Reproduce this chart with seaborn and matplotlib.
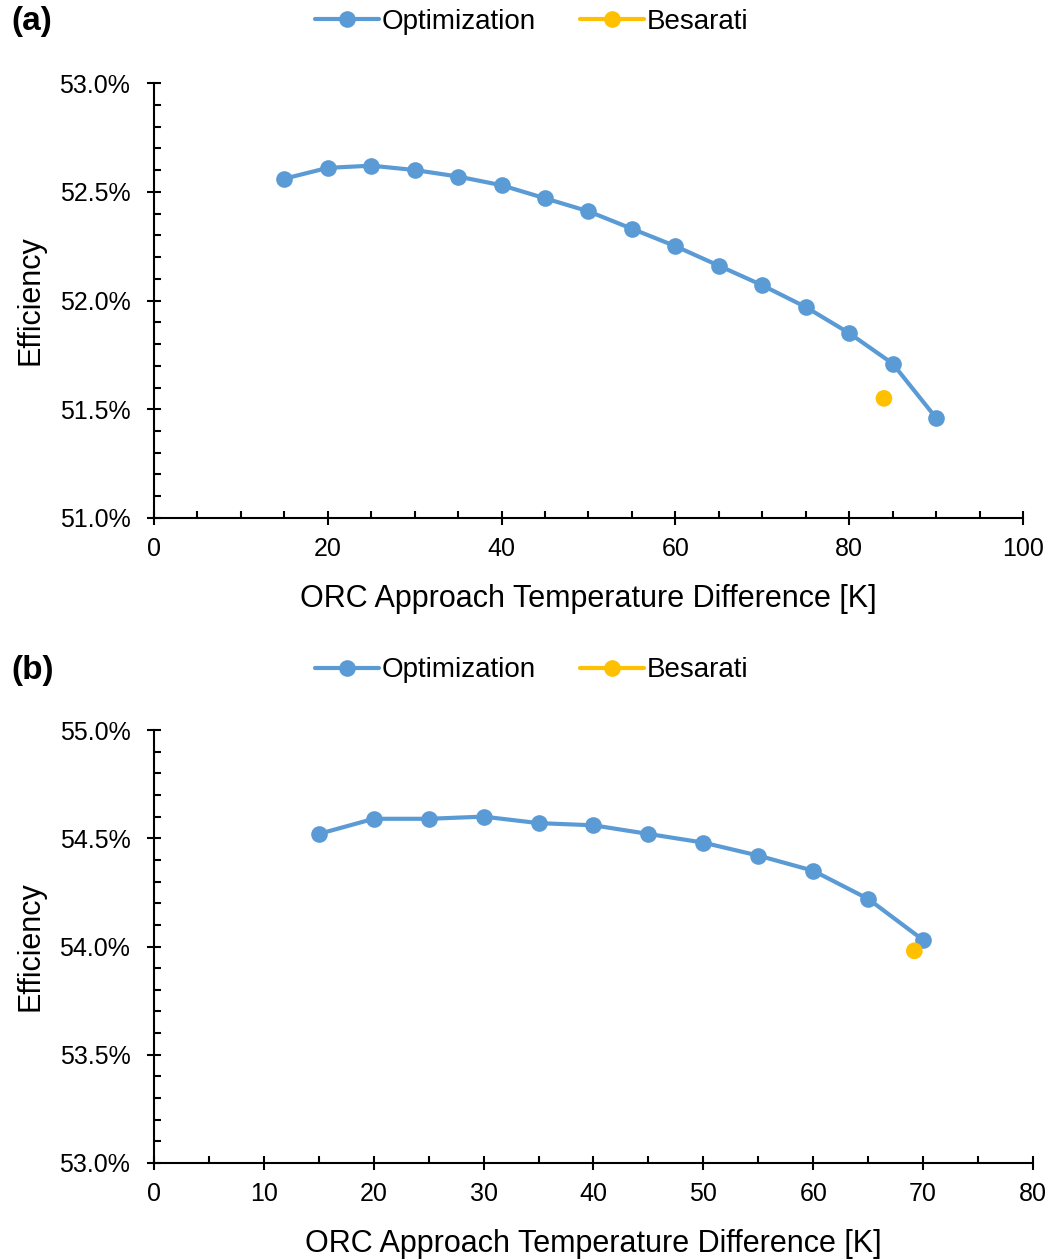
import numpy as np
import pandas as pd
import matplotlib
matplotlib.use("Agg")
import matplotlib.pyplot as plt
import seaborn as sns
from matplotlib.ticker import MultipleLocator, FuncFormatter
from matplotlib.lines import Line2D

# ---- data ----
dt_a = [15, 20, 25, 30, 35, 40, 45, 50, 55, 60, 65, 70, 75, 80, 85, 90]
eff_a = [52.56, 52.61, 52.62, 52.60, 52.57, 52.53, 52.47, 52.41, 52.33, 52.25,
         52.16, 52.07, 51.97, 51.85, 51.71, 51.46]
bes_a_x = [84.0]
bes_a_y = [51.55]

dt_b = [15, 20, 25, 30, 35, 40, 45, 50, 55, 60, 65, 70]
eff_b = [54.52, 54.59, 54.59, 54.60, 54.57, 54.56, 54.52, 54.48, 54.42, 54.35,
         54.22, 54.03]
bes_b_x = [69.2]
bes_b_y = [53.98]

series_names = ["Optimization", "Besarati"]
panel_labels = ["(a)", "(b)"]
xlabel = "ORC Approach Temperature Difference [K]"
ylabel = "Efficiency"

BLUE = "#5B9BD5"
ORANGE = "#FFC000"

sns.set_style("ticks")
plt.rcParams["font.family"] = ["Liberation Sans", "DejaVu Sans"]
plt.rcParams["text.color"] = "black"
plt.rcParams["axes.labelcolor"] = "black"
plt.rcParams["xtick.color"] = "black"
plt.rcParams["ytick.color"] = "black"

fig = plt.figure(figsize=(10.53, 12.6), dpi=100)
ax_a = fig.add_axes([0.1462, 0.5889, 0.8253, 0.3452])
ax_b = fig.add_axes([0.1462, 0.0770, 0.8348, 0.3436])

LW = 3.0
MS = 12

def draw(ax, x, y, bx, by, xlim, xmaj, ylim):
    df = pd.DataFrame({"x": x, "y": y})
    dfb = pd.DataFrame({"x": bx, "y": by})
    sns.lineplot(data=df, x="x", y="y", ax=ax, color=BLUE, lw=LW,
                 marker="o", markersize=MS, markeredgewidth=0, zorder=3)
    sns.scatterplot(data=dfb, x="x", y="y", ax=ax, color=ORANGE, s=MS**2,
                    edgecolor="none", zorder=4)
    ax.set_xlim(*xlim)
    ax.set_ylim(*ylim)
    ax.xaxis.set_major_locator(MultipleLocator(xmaj))
    ax.xaxis.set_minor_locator(MultipleLocator(5))
    ax.yaxis.set_major_locator(MultipleLocator(0.5))
    ax.yaxis.set_minor_locator(MultipleLocator(0.1))
    ax.yaxis.set_major_formatter(FuncFormatter(lambda v, p: f"{v:.1f}%"))
    for s in ["top", "right"]:
        ax.spines[s].set_visible(False)
    for s in ["left", "bottom"]:
        ax.spines[s].set_color("black")
        ax.spines[s].set_linewidth(1.5)
    ax.tick_params(which="major", direction="inout", length=10, width=1.5,
                   labelsize=18, colors="black", labelcolor="black")
    ax.tick_params(axis="y", which="major", pad=12)
    ax.tick_params(axis="x", which="major", pad=9)
    ax.tick_params(which="minor", direction="in", length=5, width=1.5,
                   colors="black")
    ax.set_xlabel(xlabel, fontsize=22, labelpad=16, color="black")
    ax.set_ylabel(ylabel, fontsize=22, labelpad=10, color="black")
    ax.grid(False)

draw(ax_a, dt_a, eff_a, bes_a_x, bes_a_y, (0, 100), 20, (51.0, 53.0))
draw(ax_b, dt_b, eff_b, bes_b_x, bes_b_y, (0, 80), 10, (53.0, 55.0))

handles = [
    Line2D([], [], color=BLUE, lw=LW, marker="o", markersize=MS, markeredgewidth=0),
    Line2D([], [], color=ORANGE, lw=LW, marker="o", markersize=MS, markeredgewidth=0),
]
for ypos in [0.9825, 0.468]:
    leg = fig.legend(handles, series_names, loc="center", bbox_to_anchor=(0.505, ypos),
                     ncol=2, frameon=False, fontsize=20, handlelength=2.3,
                     handletextpad=0.1, columnspacing=1.6, borderpad=0)
    for t in leg.get_texts():
        t.set_color("black")

fig.text(0.011, 0.983, panel_labels[0], fontsize=24, fontweight="bold", va="center", color="black")
fig.text(0.011, 0.468, panel_labels[1], fontsize=24, fontweight="bold", va="center", color="black")

fig.savefig("out.png", dpi=100)
